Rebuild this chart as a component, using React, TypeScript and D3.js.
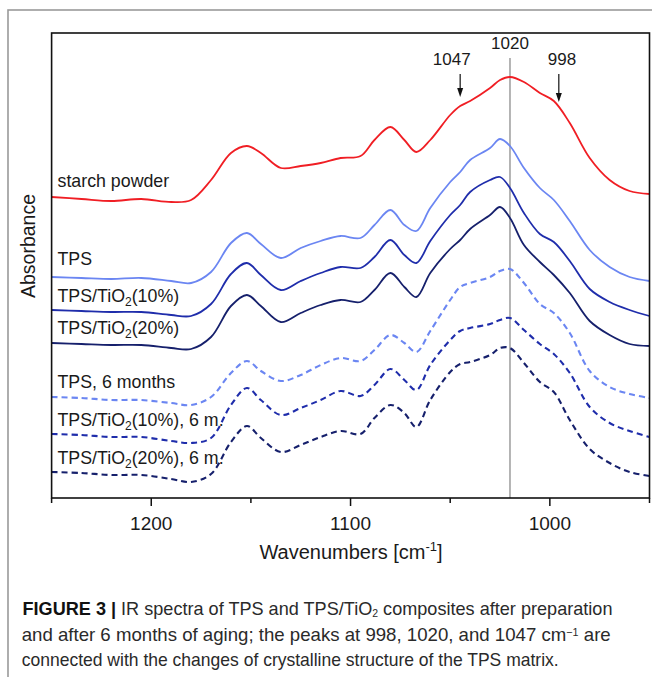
import React from 'react';
import * as d3 from 'd3';

// Wavenumber grid (cm^-1)
const wavenumbers = [1250, 1235, 1220, 1205, 1190, 1180, 1170, 1160, 1152, 1145, 1135, 1125, 1115, 1105, 1095, 1088, 1080, 1073, 1067, 1060, 1050, 1045, 1040, 1030, 1025, 1020, 1013, 1005, 998, 990, 980, 970, 960, 950];

// Absorbance (offset, arbitrary units)
const starchPowder = [3.01, 2.99, 2.97, 2.99, 2.96, 2.98, 3.18, 3.45, 3.52, 3.45, 3.30, 3.32, 3.35, 3.40, 3.42, 3.58, 3.71, 3.58, 3.46, 3.58, 3.83, 3.92, 3.97, 4.10, 4.18, 4.21, 4.16, 4.05, 3.97, 3.75, 3.40, 3.18, 3.07, 3.04];
const tps = [2.21, 2.20, 2.19, 2.20, 2.17, 2.15, 2.26, 2.55, 2.65, 2.54, 2.40, 2.50, 2.57, 2.62, 2.60, 2.73, 2.88, 2.73, 2.67, 2.90, 3.16, 3.26, 3.38, 3.50, 3.59, 3.52, 3.30, 3.10, 2.98, 2.77, 2.48, 2.31, 2.21, 2.17];
const tpsTi10 = [1.88, 1.87, 1.86, 1.86, 1.83, 1.82, 1.94, 2.24, 2.35, 2.23, 2.08, 2.17, 2.25, 2.31, 2.30, 2.41, 2.58, 2.43, 2.35, 2.57, 2.83, 2.93, 3.06, 3.18, 3.21, 3.10, 2.85, 2.64, 2.56, 2.37, 2.09, 1.96, 1.88, 1.82];
const tpsTi20 = [1.55, 1.54, 1.53, 1.53, 1.50, 1.49, 1.61, 1.92, 2.03, 1.92, 1.76, 1.85, 1.93, 1.98, 1.96, 2.08, 2.25, 2.11, 2.01, 2.25, 2.49, 2.58, 2.69, 2.83, 2.91, 2.80, 2.53, 2.36, 2.23, 2.05, 1.77, 1.63, 1.54, 1.52];
const tps6m = [1.01, 1.00, 0.98, 0.98, 0.95, 0.93, 1.01, 1.25, 1.37, 1.27, 1.17, 1.23, 1.33, 1.40, 1.37, 1.48, 1.63, 1.55, 1.46, 1.67, 1.98, 2.11, 2.15, 2.21, 2.27, 2.29, 2.15, 1.94, 1.85, 1.65, 1.27, 1.11, 1.04, 1.00];
const tpsTi10_6m = [0.64, 0.63, 0.61, 0.61, 0.57, 0.55, 0.60, 0.93, 1.10, 0.98, 0.83, 0.90, 0.98, 1.07, 1.02, 1.13, 1.29, 1.18, 1.08, 1.33, 1.58, 1.67, 1.70, 1.74, 1.78, 1.80, 1.68, 1.54, 1.44, 1.25, 0.91, 0.75, 0.67, 0.61];
const tpsTi20_6m = [0.26, 0.25, 0.23, 0.23, 0.19, 0.16, 0.24, 0.56, 0.72, 0.60, 0.46, 0.53, 0.61, 0.67, 0.64, 0.80, 0.93, 0.85, 0.71, 0.98, 1.26, 1.34, 1.36, 1.43, 1.50, 1.50, 1.35, 1.16, 1.06, 0.78, 0.49, 0.35, 0.26, 0.22];

const seriesNames = ['starch powder', 'TPS', 'TPS/TiO2(10%)', 'TPS/TiO2(20%)', 'TPS, 6 months', 'TPS/TiO2(10%), 6 m.', 'TPS/TiO2(20%), 6 m.'];
const seriesValues = [starchPowder, tps, tpsTi10, tpsTi20, tps6m, tpsTi10_6m, tpsTi20_6m];

const majorTicks = [1200, 1100, 1000];
const minorTicks = [1250, 1150, 1050, 950];

const peakLabels = ['1047', '1020', '998'];
const peakArrowAt = [1045, null, 995.5];
const refLineAt = 1020;

// Styles
const colors = ['#f01e24', '#6b86f2', '#1f2dab', '#16206c', '#6b86f2', '#1f2dab', '#16206c'];
const dashed = [false, false, false, false, true, true, true];
const labelLift = [10, 12, 8.5, 9, 9, 8.5, 8];

const FONT = '"Liberation Sans", Arial, Helvetica, sans-serif';

function SeriesLabel({ name, x, y }: { name: string; x: number; y: number }) {
  const idx = name.indexOf('TiO2');
  if (idx < 0) {
    return <text x={x} y={y} fontSize={17.8} fontFamily={FONT} fill="#1a1a1a">{name}</text>;
  }
  const before = name.slice(0, idx + 3);
  const after = name.slice(idx + 4);
  return (
    <text x={x} y={y} fontSize={17.8} fontFamily={FONT} fill="#1a1a1a">
      {before}
      <tspan fontSize={12} dy={4}>2</tspan>
      <tspan dy={-4}>{after}</tspan>
    </text>
  );
}

export default function App() {
  const left = 51.6, right = 649.5, top = 33, bottom = 498;
  const x = d3.scaleLinear().domain([1250, 950]).range([left, right]);
  const y = d3.scaleLinear().domain([0, 4.65]).range([bottom, top]);

  const line = d3.line<number>()
    .x((_, i) => x(wavenumbers[i]))
    .y((d) => y(d))
    .curve(d3.curveCatmullRom.alpha(0.5));

  const peakY = [65, 48.5, 65];

  return (
    <svg width={652} height={677} style={{ position: 'absolute', left: 0, top: 0, display: 'block', background: '#fff' }}>
      <rect x={0} y={0} width={652} height={677} fill="#fff" />
      {/* outer panel border */}
      <rect x={8} y={10} width={700} height={720} fill="none" stroke="#9a9a9a" strokeWidth={1.6} />

      {/* reference line at 1020 */}
      <line x1={x(refLineAt)} x2={x(refLineAt)} y1={58} y2={bottom} stroke="#8c8c8c" strokeWidth={1.3} />

      {/* series */}
      {seriesValues.map((vals, i) => (
        <path key={i} d={line(vals) || ''} fill="none" stroke={colors[i]}
          strokeWidth={dashed[i] ? 2.1 : 1.8}
          strokeDasharray={dashed[i] ? '6 4' : undefined}
          strokeLinejoin="round" />
      ))}

      {/* series labels */}
      {seriesNames.map((n, i) => (
        <SeriesLabel key={n} name={n} x={57.5} y={y(seriesValues[i][0]) - labelLift[i]} />
      ))}

      {/* peak annotations */}
      {peakLabels.map((lab, i) => {
        const cx = i === 0 ? 451.7 : i === 1 ? x(refLineAt) : 562;
        return (
          <text key={lab} x={cx} y={peakY[i]} textAnchor="middle" fontSize={17} fontFamily={FONT} fill="#1a1a1a">{lab}</text>
        );
      })}
      {peakArrowAt.map((w, i) => {
        if (w === null) return null;
        const ax = x(w);
        const y1 = 74, y2 = i === 0 ? 97 : 102;
        return (
          <g key={i}>
            <line x1={ax} x2={ax} y1={y1} y2={y2 - 7} stroke="#111" strokeWidth={1.2} />
            <path d={`M${ax - 3},${y2 - 9} L${ax + 3},${y2 - 9} L${ax},${y2} Z`} fill="#111" />
          </g>
        );
      })}

      {/* frame */}
      <rect x={left} y={top} width={right - left} height={bottom - top} fill="none" stroke="#111" strokeWidth={1.6} />

      {/* ticks */}
      {majorTicks.map((t) => (
        <g key={t}>
          <line x1={x(t)} x2={x(t)} y1={bottom} y2={bottom + 8} stroke="#111" strokeWidth={1.5} />
          <text x={x(t)} y={530} textAnchor="middle" fontSize={19} fontFamily={FONT} fill="#1a1a1a">{t}</text>
        </g>
      ))}
      {minorTicks.map((t) => (
        <line key={t} x1={x(t)} x2={x(t)} y1={bottom} y2={bottom + 5} stroke="#111" strokeWidth={1.5} />
      ))}

      {/* axis titles */}
      <text x={351} y={559} textAnchor="middle" fontSize={20} fontFamily={FONT} fill="#1a1a1a">
        Wavenumbers [cm<tspan fontSize={13} dy={-8}>-1</tspan><tspan dy={8}>]</tspan>
      </text>
      <text transform="translate(35,246) rotate(-90)" textAnchor="middle" fontSize={19.5} fontFamily={FONT} fill="#1a1a1a">Absorbance</text>

      {/* caption */}
      <g fontFamily={FONT} fontSize={19} fill="#2a2a2a">
        <text x={22.5} y={615} textLength={590} lengthAdjust="spacingAndGlyphs">
          <tspan fontWeight="bold" fill="#111">FIGURE 3 |</tspan> IR spectra of TPS and TPS/TiO<tspan fontSize={11} dy={2}>2</tspan><tspan dy={-2}> composites after preparation</tspan>
        </text>
        <text x={21.7} y={640.5} textLength={589} lengthAdjust="spacingAndGlyphs">
          and after 6 months of aging; the peaks at 998, 1020, and 1047 cm<tspan fontSize={11} dy={-5}>−1</tspan><tspan dy={5}> are</tspan>
        </text>
        <text x={21.7} y={666} textLength={537} lengthAdjust="spacingAndGlyphs">
          connected with the changes of crystalline structure of the TPS matrix.
        </text>
      </g>
    </svg>
  );
}
